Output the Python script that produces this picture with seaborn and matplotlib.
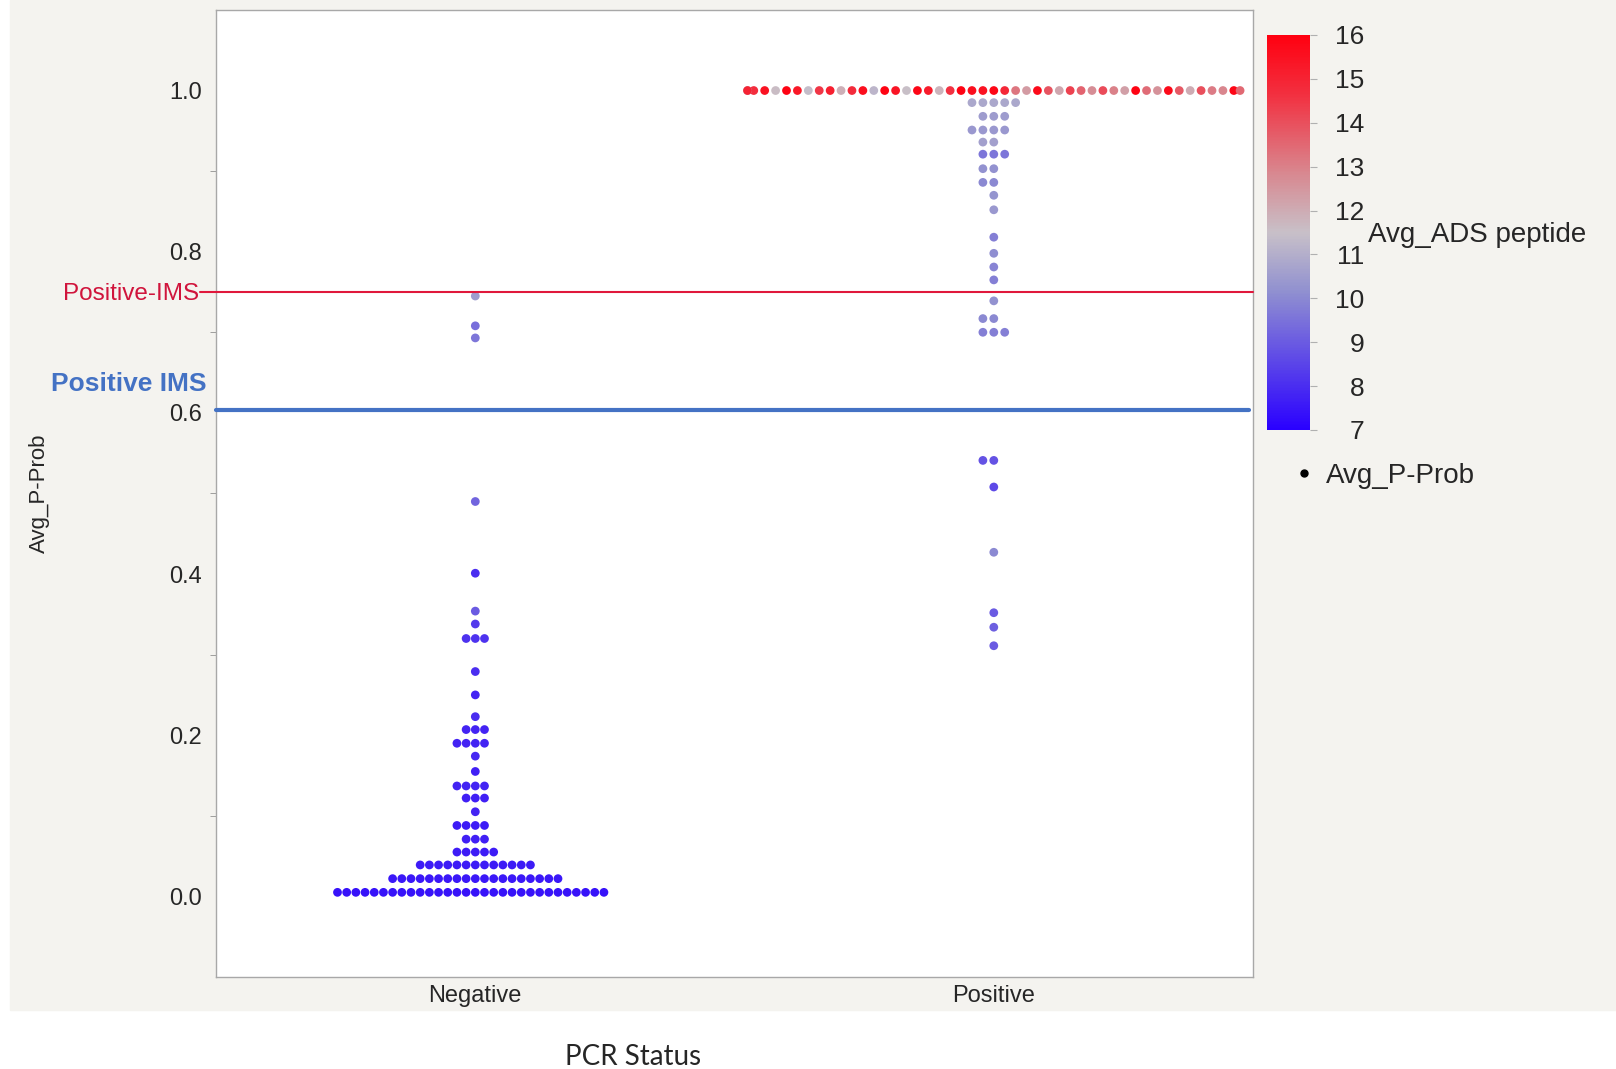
import numpy as np
import pandas as pd
import matplotlib
matplotlib.use("Agg")
import matplotlib.pyplot as plt
import seaborn as sns
from matplotlib.colors import LinearSegmentedColormap, Normalize
from matplotlib.lines import Line2D
from matplotlib.patches import Rectangle

# ---- data ----
# Negative PCR status: probability level, number of samples at that level, Avg_ADS peptide
neg_prob = [0.005, 0.022, 0.039, 0.055, 0.071, 0.088, 0.105, 0.122, 0.137, 0.155,
            0.174, 0.190, 0.207, 0.223, 0.250, 0.279, 0.320, 0.338, 0.354, 0.401,
            0.490, 0.693, 0.708, 0.745]
neg_count = [30, 19, 13, 5, 3, 4, 1, 3, 4, 1,
             1, 4, 3, 1, 1, 1, 3, 1, 1, 1,
             1, 1, 1, 1]
neg_ads = [7.4, 7.5, 7.6, 7.6, 7.7, 7.6, 7.8, 7.7, 7.8, 7.7,
           7.9, 7.8, 7.8, 8.0, 7.8, 8.0, 8.1, 8.3, 9.0, 8.0,
           9.2, 9.6, 9.4, 10.5]

# Positive PCR status below 1.0
pos_prob = [0.311, 0.334, 0.352, 0.427, 0.508, 0.541, 0.700, 0.717, 0.739, 0.765,
            0.781, 0.798, 0.818, 0.852, 0.870, 0.886, 0.903, 0.921, 0.936, 0.951,
            0.968, 0.985]
pos_count = [1, 1, 1, 1, 1, 2, 3, 2, 1, 1,
             1, 1, 1, 1, 1, 2, 2, 3, 2, 4,
             3, 5]
pos_ads = [9.0, 9.1, 9.0, 10.0, 8.6, 8.8, 9.8, 10.0, 10.2, 9.8,
           9.9, 10.1, 9.8, 10.4, 10.3, 10.0, 10.2, 9.6, 10.6, 10.4,
           10.5, 10.8]

# Positive PCR status at P-Prob = 1.0
pos_top_ads = [15.8, 15.5, 14.9, 15.6, 13.2, 15.9, 12.4, 14.6, 15.7, 11.8,
               13.9, 15.2, 12.1, 15.8, 14.3, 11.5, 13.6, 15.4, 12.7, 15.9,
               14.1, 11.2, 13.0, 15.6, 12.3, 14.8, 15.9, 11.9, 13.4, 15.1,
               12.6, 14.5, 15.7, 11.4, 13.8, 15.3, 12.0, 15.9, 14.0, 11.6,
               13.1, 15.5, 12.9, 14.7, 15.8, 11.3, 13.5, 15.0]

neg = pd.DataFrame({"PCR Status": "Negative",
                    "Avg_P-Prob": np.repeat(neg_prob, neg_count),
                    "Avg_ADS peptide": np.repeat(neg_ads, neg_count)})
pos = pd.DataFrame({"PCR Status": "Positive",
                    "Avg_P-Prob": np.repeat(pos_prob, pos_count),
                    "Avg_ADS peptide": np.repeat(pos_ads, pos_count)})
top = pd.DataFrame({"PCR Status": "Positive",
                    "Avg_P-Prob": 1.0,
                    "Avg_ADS peptide": pos_top_ads})
df = pd.concat([neg, pos, top], ignore_index=True)

# ---- style ----
sns.set_style("white")
plt.rcParams['font.family'] = ['Liberation Sans', 'DejaVu Sans']

cmap = LinearSegmentedColormap.from_list(
    "ads", [(0.0, "#2a00ff"), (0.35, "#9090d0"), (0.5, "#c8c0c8"),
            (0.65, "#d88890"), (0.85, "#f23040"), (1.0, "#ff0010")])
norm = Normalize(7, 16)

fig = plt.figure(figsize=(16.16, 10.69), dpi=100)
fig.patch.set_facecolor("white")
fig.add_artist(Rectangle((0.0064, 0.055), 1 - 0.0064, 1 - 0.055,
                         transform=fig.transFigure, color="#f4f3ef", zorder=-10))

ax = fig.add_axes([0.1337, 0.0861, 0.6417, 0.9046])
ax.set_facecolor("white")

sns.swarmplot(data=df, x="PCR Status", y="Avg_P-Prob", hue="Avg_ADS peptide",
              order=["Negative", "Positive"], palette=cmap, hue_norm=(7, 16),
              size=6.3, linewidth=0, legend=False, ax=ax)

ax.set_ylim(-0.1, 1.1)
ax.set_xlim(-0.5, 1.5)
ax.set_yticks([0.0, 0.2, 0.4, 0.6, 0.8, 1.0])
ax.set_yticks([0.1, 0.3, 0.5, 0.7, 0.9], minor=True)
ax.set_yticklabels(["0.0", "0.2", "0.4", "0.6", "0.8", "1.0"])
ax.tick_params(axis="y", which="major", length=6, color="#909090", labelsize=17, pad=4)
ax.tick_params(axis="y", which="minor", length=4, color="#909090", left=True)
ax.tick_params(axis="x", length=0, labelsize=17, pad=6)
for s in ax.spines.values():
    s.set_color("#a8a8a8")
    s.set_linewidth(1.0)
ax.set_xlabel("")
ax.set_ylabel("Avg_P-Prob", fontsize=16)
ax.yaxis.set_label_coords(-0.16, 0.5)

# threshold lines
ax.plot([-0.0155, 1.0], [0.75, 0.75], color="#e0183c", lw=1.5,
        transform=ax.get_yaxis_transform(), clip_on=False, zorder=3)
ax.plot([0.0, 0.996], [0.603, 0.603], color="#4472c4", lw=3,
        transform=ax.get_yaxis_transform(), clip_on=False, zorder=3)
ax.text(-0.0165, 0.747, "Positive-IMS", color="#d0143c", fontsize=17.5,
        ha="right", va="center", transform=ax.get_yaxis_transform())
ax.text(-0.009, 0.636, "Positive IMS", color="#4472c4", fontsize=19,
        fontweight="bold", ha="right", va="center", transform=ax.get_yaxis_transform())

fig.text(0.392, 0.011, "PCR Status", fontsize=20, family=["Lato", "DejaVu Sans"],
         ha="center", va="center")

# widen the Positive swarm at 1.0 to the full category width as in the reference
fig.canvas.draw()
for coll in ax.collections:
    off = coll.get_offsets()
    if len(off) and np.mean(off[:, 0]) > 0.5:
        half = np.max(np.abs(off[:, 0] - 1.0))
        k = 0.475 / half if half > 0 else 1.0
        off = np.array(off)
        off[:, 0] = 1.0 + (off[:, 0] - 1.0) * k
        coll.set_offsets(off)
    if "draw" in coll.__dict__:
        del coll.draw

# colorbar
cax = fig.add_axes([0.784, 0.5978, 0.0266, 0.3695])
sm = plt.cm.ScalarMappable(norm=norm, cmap=cmap)
cb = fig.colorbar(sm, cax=cax, ticks=range(7, 17))
cb.outline.set_visible(False)
cax.tick_params(labelsize=19, length=5, color="#b0b0b0", pad=34)
for lab in cax.get_yticklabels():
    lab.set_horizontalalignment("right")
fig.text(1368 / 1616, 1 - 235 / 1069, "Avg_ADS peptide", fontsize=20,
         ha="left", va="center")

fig.legend(handles=[Line2D([], [], marker="o", color="black", ls="", markersize=5)],
           labels=["Avg_P-Prob"], loc="center left", frameon=False, fontsize=20,
           bbox_to_anchor=(1262 / 1616, 1 - 476 / 1069), handletextpad=0.2,
           handlelength=1.2)

fig.savefig("out.png", dpi=100, facecolor=fig.get_facecolor())
